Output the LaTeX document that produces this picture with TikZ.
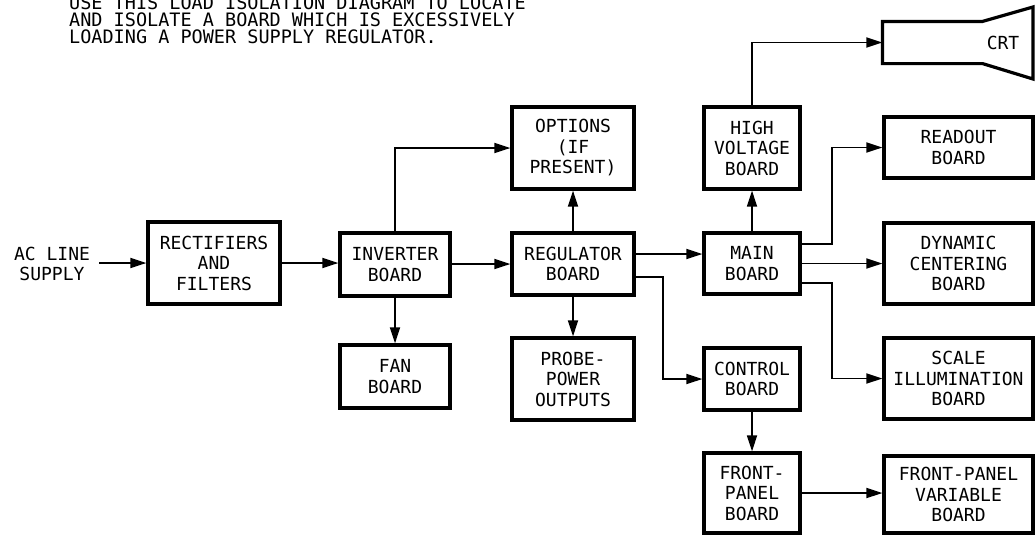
\documentclass[tikz,border=0pt]{standalone}
\usepackage{fontspec}
\newfontfamily\lettering{DejaVu Sans Mono}
\usetikzlibrary{arrows.meta}
\tikzset{
  box/.style={draw, line width=3.2pt, inner sep=0pt, align=center,
    font=\lettering\fontsize{18}{20.5}\selectfont},
  lbl/.style={inner sep=0pt, align=center, font=\lettering\fontsize{18}{20.5}\selectfont},
  ttl/.style={inner sep=0pt, anchor=base west, font=\lettering\fontsize{18.5}{17.5}\selectfont},
  conn/.style={line width=1.8pt, -{Triangle[length=16pt,width=10pt]}}
}
\begin{document}
\begin{tikzpicture}[x=1pt,y=-1pt]
\useasboundingbox (0,0) rectangle (1035,536);
\clip (0,0) rectangle (1035,536);
% title (top line cut by the page edge, as in the original)
\node[ttl] (t1) at (69,9) {USE THIS LOAD ISOLATION DIAGRAM TO LOCATE};
\node[ttl] (t2) at (69,26) {AND ISOLATE A BOARD WHICH IS EXCESSIVELY};
\node[ttl] (t3) at (69,43) {LOADING A POWER SUPPLY REGULATOR.};
% boxes
\node[box, minimum width=132pt, minimum height=82pt] (rect) at (214,263) {RECTIFIERS\\AND\\FILTERS};
\node[box, minimum width=110pt, minimum height=63pt] (inv) at (395,264.5) {INVERTER\\BOARD};
\node[box, minimum width=110pt, minimum height=63pt] (fan) at (395,376.5) {FAN\\BOARD};
\node[box, minimum width=122pt, minimum height=62pt] (reg) at (573,264) {REGULATOR\\BOARD};
\node[box, minimum width=122pt, minimum height=82pt] (opt) at (573,148) {OPTIONS\\(IF\\PRESENT)};
\node[box, minimum width=122pt, minimum height=82pt] (probe) at (573,379) {PROBE-\\POWER\\OUTPUTS};
\node[box, minimum width=96pt, minimum height=82pt] (hv) at (752,148) {HIGH\\VOLTAGE\\BOARD};
\node[box, minimum width=96pt, minimum height=61pt] (main) at (752,263.5) {MAIN\\BOARD};
\node[box, minimum width=96pt, minimum height=62pt] (ctrl) at (752,379) {CONTROL\\BOARD};
\node[box, minimum width=96pt, minimum height=80pt] (fp) at (752,493) {FRONT-\\PANEL\\BOARD};
\node[box, minimum width=149pt, minimum height=61pt] (readout) at (958.5,147.5) {READOUT\\BOARD};
\node[box, minimum width=149pt, minimum height=81pt] (dyn) at (958.5,263.5) {DYNAMIC\\CENTERING\\BOARD};
\node[box, minimum width=149pt, minimum height=81pt] (scale) at (958.5,378.5) {SCALE\\ILLUMINATION\\BOARD};
\node[box, minimum width=149pt, minimum height=77pt] (fpv) at (958.5,494.5) {FRONT-PANEL\\VARIABLE\\BOARD};
% CRT
\node[inner sep=0pt, outer sep=1.6pt, minimum width=97pt, minimum height=39pt] (crt) at (932.5,42.5) {};
\draw[line width=3.2pt, line join=miter] (crt.north west) -- (crt.north east) -- (1033,7) -- (1033,79) -- (crt.south east) -- (crt.south west) -- cycle;
\node[lbl] (crtl) at (1003,43) {CRT};
% input
\node[lbl] (ac) at (52,264) {AC LINE\\SUPPLY};
\coordinate (acend) at (99,263);
% connectors
\draw[conn] (acend) -- (rect.west);
\draw[conn] (rect.east) -- (rect.east -| inv.west);
\draw[conn] (inv.east |- reg.west) -- (reg.west);
\draw[conn] (inv.north) |- (opt.west);
\draw[conn] (inv.south) -- (fan.north);
\draw[conn] (reg.north) -- (opt.south);
\draw[conn] (reg.south) -- (probe.north);
\draw[conn] (reg.east |- 0,254) -- (main.west |- 0,254);
\draw[conn] (reg.east |- 0,277) -- (663,277) |- (ctrl.west);
\draw[conn] (main.north) -- (hv.south);
\draw[conn] (hv.north) |- (crt.west);
\draw[conn] (main.east |- 0,244) -- (832,244) |- (readout.west);
\draw[conn] (main.east) -- (dyn.west);
\draw[conn] (main.east |- 0,283) -- (832,283) |- (scale.west);
\draw[conn] (ctrl.south) -- (fp.north);
\draw[conn] (fp.east) -- (fp.east -| fpv.west);
\end{tikzpicture}
\end{document}
